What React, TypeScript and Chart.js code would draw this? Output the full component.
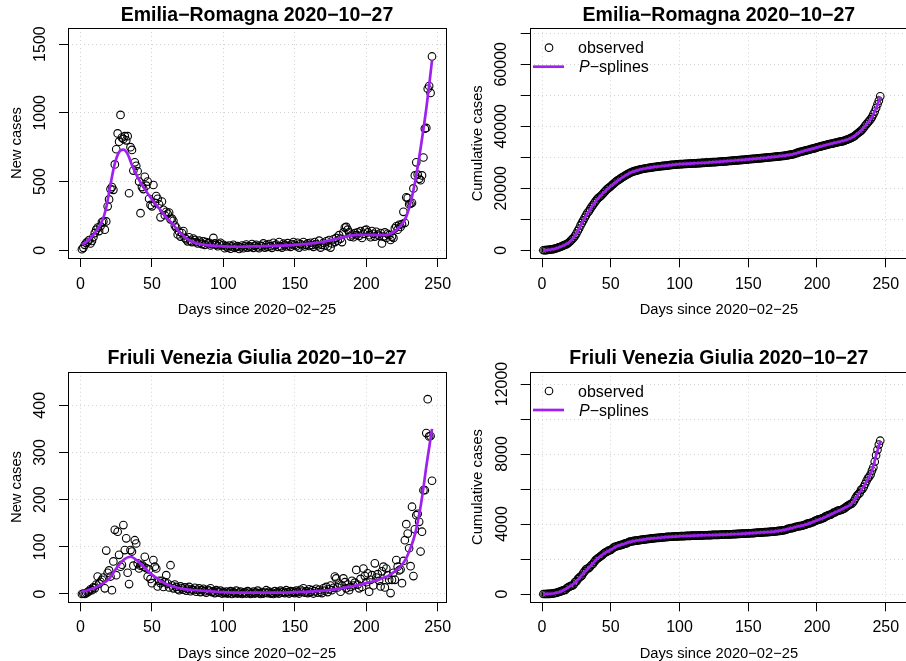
import React, { useEffect, useRef } from "react";
import { Chart, registerables } from "chart.js";

Chart.register(...registerables);

// ---------------- DATA ----------------
// day index (days since 2020-02-25), one observation per day
const DAYS: number[] = Array.from({ length: 246 }, (_, i) => i + 1);

// tick values
const X_TICKS = [0, 50, 100, 150, 200, 250];
const ER_NEW_TICKS = [0, 500, 1000, 1500];
const ER_NEW_LABELS = [0, 500, 1000, 1500];
const ER_CUM_TICKS = [0, 10000, 20000, 30000, 40000, 50000, 60000, 70000];
const ER_CUM_LABELS = [0, 20000, 40000, 60000];
const FVG_NEW_TICKS = [0, 100, 200, 300, 400];
const FVG_NEW_LABELS = [0, 100, 200, 300, 400];
const FVG_CUM_TICKS = [0, 2000, 4000, 6000, 8000, 10000, 12000];
const FVG_CUM_LABELS = [0, 4000, 8000, 12000];

// Emilia-Romagna: new cases per day
const erNew = [
  8, 18, 40, 55, 62, 75, 50, 68, 95, 125,
  150, 165, 140, 175, 205, 210, 150, 210, 320, 370,
  445, 460, 440, 625, 735, 850, 790, 985, 820, 810,
  830, 800, 830, 415, 750, 730, 580, 640, 615, 575,
  500, 270, 460, 445, 535, 470, 500, 375, 330, 320,
  475, 345, 395, 375, 335, 240, 355, 295, 255, 280,
  265, 275, 225, 230, 215, 180, 165, 115, 135, 100,
  125, 140, 90, 80, 65, 95, 70, 60, 85, 75,
  60, 50, 70, 55, 45, 65, 40, 60, 50, 55,
  35, 45, 90, 50, 40, 30, 45, 55, 35, 40,
  15, 30, 20, 35, 12, 28, 40, 18, 25, 30,
  10, 22, 35, 15, 28, 42, 20, 30, 25, 45,
  18, 32, 40, 22, 15, 35, 28, 50, 20, 38,
  25, 45, 30, 18, 55, 35, 42, 25, 60, 30,
  20, 48, 38, 28, 52, 35, 25, 45, 60, 40,
  30, 55, 20, 45, 35, 60, 28, 40, 50, 32,
  55, 38, 25, 60, 45, 35, 70, 20, 40, 55,
  35, 65, 30, 75, 20, 50, 80, 60, 90, 70,
  110, 85, 60, 130, 165, 170, 150, 130, 100, 115,
  95, 125, 110, 130, 105, 140, 90, 120, 145, 150,
  130, 110, 95, 140, 120, 100, 135, 115, 105, 125,
  50, 100, 130, 90, 120, 110, 75, 100, 90, 160,
  175, 150, 185, 170, 190, 280, 200, 385, 380, 335,
  340, 345, 450, 545, 640, 550, 520, 510, 545, 675,
  885, 890, 1175, 1195, 1145, 1410,
];

// Emilia-Romagna: cumulative cases
const erCum = [
  8, 26, 66, 121, 183, 258, 308, 376, 471, 596,
  746, 911, 1051, 1226, 1431, 1641, 1791, 2001, 2321, 2691,
  3136, 3596, 4036, 4661, 5396, 6246, 7036, 8021, 8841, 9651,
  10481, 11281, 12111, 12526, 13276, 14006, 14586, 15226, 15841, 16416,
  16916, 17186, 17646, 18091, 18626, 19096, 19596, 19971, 20301, 20621,
  21096, 21441, 21836, 22211, 22546, 22786, 23141, 23436, 23691, 23971,
  24236, 24511, 24736, 24966, 25181, 25361, 25526, 25641, 25776, 25876,
  26001, 26141, 26231, 26311, 26376, 26471, 26541, 26601, 26686, 26761,
  26821, 26871, 26941, 26996, 27041, 27106, 27146, 27206, 27256, 27311,
  27346, 27391, 27481, 27531, 27571, 27601, 27646, 27701, 27736, 27776,
  27791, 27821, 27841, 27876, 27888, 27916, 27956, 27974, 27999, 28029,
  28039, 28061, 28096, 28111, 28139, 28181, 28201, 28231, 28256, 28301,
  28319, 28351, 28391, 28413, 28428, 28463, 28491, 28541, 28561, 28599,
  28624, 28669, 28699, 28717, 28772, 28807, 28849, 28874, 28934, 28964,
  28984, 29032, 29070, 29098, 29150, 29185, 29210, 29255, 29315, 29355,
  29385, 29440, 29460, 29505, 29540, 29600, 29628, 29668, 29718, 29750,
  29805, 29843, 29868, 29928, 29973, 30008, 30078, 30098, 30138, 30193,
  30228, 30293, 30323, 30398, 30418, 30468, 30548, 30608, 30698, 30768,
  30878, 30963, 31023, 31153, 31318, 31488, 31638, 31768, 31868, 31983,
  32078, 32203, 32313, 32443, 32548, 32688, 32778, 32898, 33043, 33193,
  33323, 33433, 33528, 33668, 33788, 33888, 34023, 34138, 34243, 34368,
  34418, 34518, 34648, 34738, 34858, 34968, 35043, 35143, 35233, 35393,
  35568, 35718, 35903, 36073, 36263, 36543, 36743, 37128, 37508, 37843,
  38183, 38528, 38978, 39523, 40163, 40713, 41233, 41743, 42288, 42963,
  43848, 44738, 45913, 47108, 48253, 49663,
];

// Friuli Venezia Giulia: new cases per day
const fvgNew = [
  0, 1, 0, 2, 4, 6, 10, 8, 14, 12,
  20, 37, 22, 26, 30, 35, 12, 92, 45, 50,
  37, 8, 69, 136, 40, 132, 83, 58, 62, 146,
  93, 118, 45, 21, 93, 90, 60, 114, 107, 65,
  54, 60, 62, 58, 79, 55, 37, 52, 32, 23,
  72, 58, 54, 16, 28, 23, 28, 15, 25, 40,
  22, 14, 61, 18, 12, 20, 15, 10, 8, 16,
  12, 9, 14, 7, 11, 15, 6, 10, 8, 13,
  5, 9, 12, 4, 8, 11, 6, 3, 9, 7,
  12, 4, 6, 2, 8, 5, 3, 7, 1, 4,
  2, 5, 1, 3, 6, 0, 4, 2, 7, 1,
  3, 5, 0, 2, 4, 1, 6, 3, 0, 2,
  5, 1, 3, 7, 2, 0, 4, 1, 3, 8,
  2, 5, 1, 3, 0, 6, 2, 4, 1, 7,
  3, 5, 2, 8, 4, 1, 6, 3, 5, 2,
  7, 4, 1, 9, 5, 12, 3, 6, 2, 10,
  4, 8, 1, 6, 11, 3, 9, 5, 2, 12,
  7, 15, 4, 10, 18, 8, 13, 37, 33, 14,
  22, 5, 18, 33, 25, 12, 20, 8, 15, 28,
  18, 24, 51, 20, 12, 32, 15, 54, 38, 25,
  44, 5, 30, 40, 18, 65, 35, 42, 28, 16,
  48, 58, 14, 54, 40, 30, 2, 30, 45, 30,
  72, 58, 50, 52, 23, 70, 114, 148, 128, 97,
  59, 185, 38, 137, 167, 170, 153, 90, 132, 220,
  220, 341, 413, 334, 335, 240,
];

// Friuli Venezia Giulia: cumulative cases
const fvgCum = [
  0, 1, 1, 3, 7, 13, 23, 31, 45, 57,
  77, 114, 136, 162, 192, 227, 239, 331, 376, 426,
  463, 471, 540, 676, 716, 848, 931, 989, 1051, 1197,
  1290, 1408, 1453, 1474, 1567, 1657, 1717, 1831, 1938, 2003,
  2057, 2117, 2179, 2237, 2316, 2371, 2408, 2460, 2492, 2515,
  2587, 2645, 2699, 2715, 2743, 2766, 2794, 2809, 2834, 2874,
  2896, 2910, 2971, 2989, 3001, 3021, 3036, 3046, 3054, 3070,
  3082, 3091, 3105, 3112, 3123, 3138, 3144, 3154, 3162, 3175,
  3180, 3189, 3201, 3205, 3213, 3224, 3230, 3233, 3242, 3249,
  3261, 3265, 3271, 3273, 3281, 3286, 3289, 3296, 3297, 3301,
  3303, 3308, 3309, 3312, 3318, 3318, 3322, 3324, 3331, 3332,
  3335, 3340, 3340, 3342, 3346, 3347, 3353, 3356, 3356, 3358,
  3363, 3364, 3367, 3374, 3376, 3376, 3380, 3381, 3384, 3392,
  3394, 3399, 3400, 3403, 3403, 3409, 3411, 3415, 3416, 3423,
  3426, 3431, 3433, 3441, 3445, 3446, 3452, 3455, 3460, 3462,
  3469, 3473, 3474, 3483, 3488, 3500, 3503, 3509, 3511, 3521,
  3525, 3533, 3534, 3540, 3551, 3554, 3563, 3568, 3570, 3582,
  3589, 3604, 3608, 3618, 3636, 3644, 3657, 3694, 3727, 3741,
  3763, 3768, 3786, 3819, 3844, 3856, 3876, 3884, 3899, 3927,
  3945, 3969, 4020, 4040, 4052, 4084, 4099, 4153, 4191, 4216,
  4260, 4265, 4295, 4335, 4353, 4418, 4453, 4495, 4523, 4539,
  4587, 4645, 4659, 4713, 4753, 4783, 4785, 4815, 4860, 4890,
  4962, 5020, 5070, 5122, 5145, 5215, 5329, 5477, 5605, 5702,
  5761, 5946, 5984, 6121, 6288, 6458, 6611, 6701, 6833, 7053,
  7240, 7560, 7930, 8240, 8540, 8760,
];

// P-spline fits, sampled on these days (new cases)
const erFitDays = [1, 5, 10, 15, 18, 21, 24, 27, 30, 33, 36, 40, 45, 50, 55, 60, 65, 70, 75, 80, 90, 100, 110, 120, 130, 140, 150, 160, 170, 180, 185, 190, 195, 200, 205, 210, 215, 220, 225, 228, 230, 232, 234, 236, 238, 240, 242, 244, 246];
const erFitNew = [40, 70, 125, 210, 310, 480, 630, 715, 732, 700, 620, 530, 445, 370, 305, 240, 185, 125, 82, 55, 36, 28, 26, 28, 30, 34, 40, 48, 62, 85, 98, 108, 112, 113, 112, 110, 113, 140, 190, 245, 310, 390, 490, 610, 740, 880, 1030, 1200, 1380];

const fvgFitDays = [1, 5, 10, 15, 20, 25, 30, 35, 40, 45, 50, 55, 60, 65, 70, 80, 90, 100, 110, 120, 130, 140, 150, 160, 170, 180, 190, 200, 205, 210, 215, 220, 225, 228, 230, 233, 235, 238, 240, 242, 244, 246];
const fvgFitNew = [5, 8, 13, 21, 32, 54, 72, 79, 70, 55, 41, 30, 21, 16, 12, 8, 6, 4, 3, 3, 3, 3, 4, 5, 7, 11, 16, 23, 27, 32, 38, 48, 62, 76, 90, 115, 138, 185, 225, 270, 310, 350];

// P-spline fits, sampled on these days (cumulative cases)
const cumFitDays = [1, 5, 10, 15, 20, 25, 30, 35, 40, 45, 50, 55, 60, 65, 70, 75, 80, 85, 90, 95, 100, 110, 120, 130, 140, 150, 160, 170, 180, 185, 190, 195, 200, 205, 210, 215, 220, 225, 230, 235, 240, 243, 246];
const erFitCum = [20, 180, 600, 1420, 2700, 5350, 9550, 13250, 16350, 18650, 20650, 22500, 23950, 25150, 25880, 26380, 26760, 27040, 27300, 27560, 27770, 28030, 28300, 28600, 28960, 29350, 29760, 30200, 30780, 31300, 31970, 32560, 33190, 33790, 34360, 34870, 35420, 36280, 37800, 40150, 42980, 45800, 49500];
const fvgFitCum = [0, 10, 55, 190, 420, 720, 1170, 1570, 2000, 2310, 2530, 2740, 2875, 2990, 3070, 3125, 3175, 3215, 3250, 3280, 3300, 3332, 3358, 3390, 3423, 3462, 3520, 3582, 3735, 3840, 3925, 4050, 4210, 4355, 4540, 4720, 4920, 5150, 5690, 6280, 7050, 7920, 8720];

const TITLE_ER = "Emilia\u2212Romagna 2020\u221210\u221227";
const TITLE_FVG = "Friuli Venezia Giulia 2020\u221210\u221227";
const X_TITLE = "Days since 2020\u221202\u221225";
const Y_NEW = "New cases";
const Y_CUM = "Cumulative cases";
const LEG_OBS = "observed";
const LEG_FIT_P = "P";
const LEG_FIT_REST = "\u2212splines";

// ---------------- STYLE / LAYOUT ----------------
const PURPLE = "#A020F0";
const FONT = '"Liberation Sans", Arial, Helvetica, sans-serif';

type Spec = {
  left: number; top: number; w: number; h: number;
  area: { l: number; t: number; r: number; b: number };
  xr: [number, number]; yr: [number, number]; yTicks: number[]; yLabels: number[];
  title: string; yTitle: string;
  obs: number[]; fitX: number[]; fitY: number[];
  legend: null | { circleY: number; lineY: number };
  titleBase: number; xTickBase: number; xTitleBase: number; yTickBase: number; yTitleBase: number;
};

const SPECS: Spec[] = [
  {
    left: 0, top: 0, w: 453, h: 330,
    area: { l: 68, t: 28, r: 446, b: 258 },
    xr: [-8.75, 255.8], yr: [-56, 1617], yTicks: ER_NEW_TICKS, yLabels: ER_NEW_LABELS,
    title: TITLE_ER, yTitle: Y_NEW, obs: erNew, fitX: erFitDays, fitY: erFitNew, legend: null,
    titleBase: 20.7, xTickBase: 289.3, xTitleBase: 314.3, yTickBase: 45, yTitleBase: 20.7,
  },
  {
    left: 453, top: 0, w: 470, h: 330,
    area: { l: 76.7, t: 28.3, r: 455, b: 258.3 },
    xr: [-8.95, 266.2], yr: [-2581, 71613], yTicks: ER_CUM_TICKS, yLabels: ER_CUM_LABELS,
    title: TITLE_ER, yTitle: Y_CUM, obs: erCum, fitX: cumFitDays, fitY: erFitCum,
    legend: { circleY: 47.7, lineY: 66.7 },
    titleBase: 21, xTickBase: 289.3, xTitleBase: 314.3, yTickBase: 53.3, yTitleBase: 29.3,
  },
  {
    left: 0, top: 330, w: 453, h: 331,
    area: { l: 68, t: 41.7, r: 446, b: 272.3 },
    xr: [-8.75, 255.8], yr: [-17.6, 471.2], yTicks: FVG_NEW_TICKS, yLabels: FVG_NEW_LABELS,
    title: TITLE_FVG, yTitle: Y_NEW, obs: fvgNew, fitX: fvgFitDays, fitY: fvgFitNew, legend: null,
    titleBase: 33.7, xTickBase: 302.2, xTitleBase: 327.7, yTickBase: 45, yTitleBase: 20.7,
  },
  {
    left: 453, top: 330, w: 470, h: 331,
    area: { l: 76.7, t: 41.7, r: 455, b: 272.3 },
    xr: [-8.95, 266.2], yr: [-474, 12703], yTicks: FVG_CUM_TICKS, yLabels: FVG_CUM_LABELS,
    title: TITLE_FVG, yTitle: Y_CUM, obs: fvgCum, fitX: cumFitDays, fitY: fvgFitCum,
    legend: { circleY: 61, lineY: 80 },
    titleBase: 33.7, xTickBase: 302.2, xTitleBase: 327.7, yTickBase: 54, yTitleBase: 29.3,
  },
];

function makePlugin(spec: Spec) {
  return {
    id: "rstyle",
    afterDraw(chart: any) {
      const ctx: CanvasRenderingContext2D = chart.ctx;
      const a = chart.chartArea;
      const xs = chart.scales.x;
      const ys = chart.scales.y;
      ctx.save();
      // plot box
      ctx.strokeStyle = "#000";
      ctx.lineWidth = 1;
      ctx.setLineDash([]);
      const L = Math.round(a.left), T = Math.round(a.top), R = Math.round(a.right), B = Math.round(a.bottom);
      ctx.strokeRect(L + 0.5, T + 0.5, R - L, B - T);

      ctx.fillStyle = "#000";
      ctx.font = `16px ${FONT}`;
      ctx.textAlign = "center";
      ctx.textBaseline = "alphabetic";
      for (const t of xs.ticks) {
        ctx.fillText(String(t.value), xs.getPixelForValue(t.value), spec.xTickBase);
      }
      for (const t of ys.ticks) {
        if (!spec.yLabels.includes(t.value)) continue;
        ctx.save();
        ctx.translate(spec.yTickBase, ys.getPixelForValue(t.value));
        ctx.rotate(-Math.PI / 2);
        ctx.fillText(String(t.value), 0, 0);
        ctx.restore();
      }
      const cx = (a.left + a.right) / 2;
      ctx.font = `14.7px ${FONT}`;
      ctx.fillText(X_TITLE, cx, spec.xTitleBase);
      ctx.save();
      ctx.translate(spec.yTitleBase, (a.top + a.bottom) / 2);
      ctx.rotate(-Math.PI / 2);
      ctx.fillText(spec.yTitle, 0, 0);
      ctx.restore();

      ctx.font = `bold 19.5px ${FONT}`;
      ctx.fillText(spec.title, cx, spec.titleBase);

      if (spec.legend) {
        const lg = spec.legend;
        ctx.beginPath();
        ctx.arc(96, lg.circleY, 3.8, 0, Math.PI * 2);
        ctx.strokeStyle = "#000";
        ctx.lineWidth = 1.1;
        ctx.stroke();
        ctx.beginPath();
        ctx.moveTo(80, lg.lineY);
        ctx.lineTo(111, lg.lineY);
        ctx.strokeStyle = PURPLE;
        ctx.lineWidth = 2.7;
        ctx.stroke();
        ctx.textAlign = "left";
        ctx.font = `16px ${FONT}`;
        ctx.fillText(LEG_OBS, 125, lg.circleY + 5.7);
        ctx.font = `italic 16px ${FONT}`;
        ctx.fillText(LEG_FIT_P, 126, lg.lineY + 5.7);
        const pw = ctx.measureText(LEG_FIT_P).width;
        ctx.font = `16px ${FONT}`;
        ctx.fillText(LEG_FIT_REST, 126 + pw, lg.lineY + 5.7);
      }
      ctx.restore();
    },
  };
}

function Panel({ spec }: { spec: Spec }) {
  const ref = useRef<HTMLCanvasElement | null>(null);
  useEffect(() => {
    if (!ref.current) return;
    const a = spec.area;
    const gridCommon = {
      display: true,
      drawOnChartArea: true,
      drawTicks: true,
      color: "#D3D3D3",
      lineWidth: 1,
      borderDash: [1, 3],
      tickLength: 9,
      tickColor: "#000",
      tickWidth: 1,
      tickBorderDash: [],
    };
    const chart = new Chart(ref.current, {
      type: "scatter",
      data: {
        datasets: [
          {
            label: "P-splines",
            data: spec.fitX.map((x, i) => ({ x, y: spec.fitY[i] })),
            showLine: true,
            borderColor: PURPLE,
            backgroundColor: PURPLE,
            borderWidth: 2.7,
            pointRadius: 0,
            cubicInterpolationMode: "monotone",
            fill: false,
            order: 0,
          } as any,
          {
            label: "observed",
            data: DAYS.map((d, i) => ({ x: d, y: spec.obs[i] })),
            showLine: false,
            pointRadius: 3.8,
            pointBorderWidth: 1.1,
            pointBorderColor: "#000",
            pointBackgroundColor: "rgba(0,0,0,0)",
            pointStyle: "circle",
            order: 1,
          } as any,
        ],
      },
      options: {
        animation: false,
        responsive: false,
        maintainAspectRatio: false,
        devicePixelRatio: 1,
        events: [],
        layout: { padding: { left: 0, top: a.t, right: spec.w - a.r, bottom: 0 } },
        plugins: { legend: { display: false }, tooltip: { enabled: false }, title: { display: false } },
        scales: {
          x: {
            type: "linear",
            position: "bottom",
            min: spec.xr[0],
            max: spec.xr[1],
            ticks: { display: false },
            afterBuildTicks: (s: any) => { s.ticks = X_TICKS.map((v) => ({ value: v })); },
            grid: gridCommon as any,
            border: { display: false, dash: [1, 3] },
            afterFit: (s: any) => { s.height = spec.h - a.b; },
          },
          y: {
            type: "linear",
            position: "left",
            min: spec.yr[0],
            max: spec.yr[1],
            ticks: { display: false },
            afterBuildTicks: (s: any) => { s.ticks = spec.yTicks.map((v) => ({ value: v })); },
            grid: gridCommon as any,
            border: { display: false, dash: [1, 3] },
            afterFit: (s: any) => { s.width = a.l; },
          },
        },
      } as any,
      plugins: [makePlugin(spec)],
    });
    return () => chart.destroy();
  }, [spec]);
  return (
    <canvas
      ref={ref}
      width={spec.w}
      height={spec.h}
      style={{ position: "absolute", left: spec.left, top: spec.top, width: spec.w, height: spec.h }}
    />
  );
}

export default function App() {
  return (
    <div
      style={{
        position: "fixed",
        left: 0,
        top: 0,
        width: 906,
        height: 661,
        overflow: "hidden",
        background: "#fff",
      }}
    >
      {SPECS.map((s, i) => (
        <Panel key={i} spec={s} />
      ))}
    </div>
  );
}
